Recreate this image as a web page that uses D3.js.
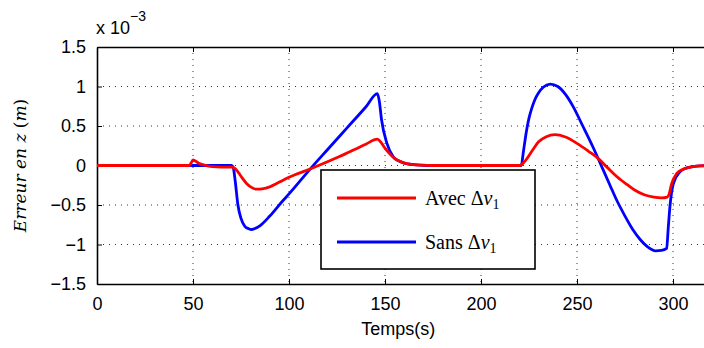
<!DOCTYPE html>
<html>
<head>
<meta charset="utf-8">
<script src="https://cdn.jsdelivr.net/npm/d3@7"></script>
<style>
  body { margin: 0; background: #fff; }
  svg { display: block; }
</style>
</head>
<body>
<div id="chart-area"></div>
<script>
// time axis (s) and error values (x 1e-3 m)
const tAvec = [0, 48, 49, 50, 51, 53, 56, 60, 65, 70, 72, 74, 76, 78, 80, 83, 86, 90, 95, 100, 111, 126, 140, 146,
  148, 150, 152, 155, 158, 162, 168, 175, 220, 221, 222, 224, 227, 230, 234, 238.5, 244, 250, 256, 261, 266, 271,
  276, 280, 285, 290, 294, 297, 298, 299.3, 302, 305, 309, 314, 320]
const avec = [0, 0, 0.03, 0.07, 0.06, 0.03, 0.005, -0.015, -0.02, -0.02, -0.04, -0.1, -0.17, -0.23, -0.27, -0.30,
  -0.295, -0.27, -0.21, -0.15, -0.045, 0.11, 0.27, 0.335, 0.29, 0.22, 0.16, 0.09, 0.05, 0.02, 0.005, 0, 0, 0.01,
  0.03, 0.09, 0.2, 0.3, 0.365, 0.39, 0.36, 0.28, 0.18, 0.09, -0.03, -0.145, -0.24, -0.31, -0.37, -0.40, -0.41,
  -0.40, -0.36, -0.23, -0.10, -0.05, -0.02, -0.005, 0]

const tSans = [0, 70, 71, 72, 73.4, 75, 77, 79, 80.5, 82, 85, 90, 97, 100, 111, 120, 130, 140, 146, 147, 148.2,
  151, 154.3, 157, 160, 165, 172, 221, 222, 223, 224, 225, 226.5, 228, 230, 232.4, 236, 240, 244, 248, 253, 258,
  263, 267, 270.7, 275, 279.3, 283, 286.3, 291, 294, 296.7, 297.5, 298.4, 300.2, 303.6, 306, 310.6, 315, 320]
const sans = [0, 0, -0.03, -0.2, -0.5, -0.67, -0.77, -0.80, -0.81, -0.80, -0.76, -0.64, -0.44, -0.36, -0.045, 0.2,
  0.47, 0.74, 0.91, 0.82, 0.58, 0.28, 0.11, 0.06, 0.03, 0.01, 0, 0, 0.16, 0.33, 0.48, 0.6, 0.73, 0.83, 0.92, 0.99,
  1.03, 1.0, 0.9, 0.745, 0.5, 0.25, -0.02, -0.24, -0.44, -0.64, -0.82, -0.94, -1.02, -1.08, -1.075, -1.05, -0.8,
  -0.52, -0.23, -0.08, -0.04, -0.015, -0.005, 0]

const xTicks = [0, 50, 100, 150, 200, 250, 300]
const yTicks = [-1.5, -1, -0.5, 0, 0.5, 1, 1.5]

const MARGIN = { LEFT: 97, TOP: 47 }
const WIDTH = 614.4
const HEIGHT = 237

const svg = d3.select("#chart-area").append("svg")
  .attr("width", 704)
  .attr("height", 348)

const g = svg.append("g")
  .attr("transform", "translate(" + MARGIN.LEFT + ", " + MARGIN.TOP + ")")

const x = d3.scaleLinear().domain([0, 320]).range([0, WIDTH])
const y = d3.scaleLinear().domain([-1.5, 1.5]).range([HEIGHT, 0])

// dotted grid
g.selectAll(".vgrid").data(xTicks.slice(1))
  .enter().append("line")
    .attr("x1", function(d) { return x(d) }).attr("x2", function(d) { return x(d) })
    .attr("y1", 0).attr("y2", HEIGHT)
    .attr("stroke", "#333").attr("stroke-dasharray", "1,5")
g.selectAll(".hgrid").data(yTicks.slice(1, -1))
  .enter().append("line")
    .attr("x1", 0).attr("x2", WIDTH)
    .attr("y1", function(d) { return y(d) }).attr("y2", function(d) { return y(d) })
    .attr("stroke", "#333").attr("stroke-dasharray", "1,5")

// axes (ticks pointing inward)
const fmt = function(d) { return d < 0 ? "\u2212" + Math.abs(d) : String(d) }
g.append("g")
  .attr("transform", "translate(0, " + HEIGHT + ")")
  .call(d3.axisBottom(x).tickValues(xTicks).tickSizeInner(-5).tickSizeOuter(0).tickPadding(13).tickFormat(fmt))
g.append("g")
  .call(d3.axisTop(x).tickValues(xTicks).tickSizeInner(-5).tickSizeOuter(0).tickFormat(""))
g.append("g")
  .call(d3.axisLeft(y).tickValues(yTicks).tickSizeInner(-5).tickSizeOuter(0).tickPadding(11).tickFormat(fmt))

g.selectAll(".domain").attr("stroke", "#000").attr("stroke-width", 1.6)
g.selectAll(".tick line").attr("stroke", "#000").attr("stroke-width", 1)
g.selectAll(".tick text")
  .attr("font-family", "'Liberation Sans', Arial, sans-serif")
  .attr("font-size", "18px")
  .attr("fill", "#000")

// curves
const line = d3.line().curve(d3.curveMonotoneX)
const avecPts = tAvec.map(function(t, i) { return [x(t), y(avec[i])] })
const sansPts = tSans.map(function(t, i) { return [x(t), y(sans[i])] })

g.append("path")
  .attr("d", line(sansPts))
  .attr("fill", "none").attr("stroke", "#0000ff").attr("stroke-width", 2.8)
g.append("path")
  .attr("d", line(avecPts))
  .attr("fill", "none").attr("stroke", "#ff0000").attr("stroke-width", 2.8)

// exponent label
const expo = svg.append("text")
  .attr("x", 96).attr("y", 34)
  .attr("font-family", "'Liberation Sans', Arial, sans-serif")
  .attr("font-size", "18px")
expo.append("tspan").text("x 10")
expo.append("tspan").attr("dy", -13).attr("font-size", "14px").text("\u22123")

// axis labels
svg.append("text")
  .attr("x", MARGIN.LEFT + x(160) - 6).attr("y", 335)
  .attr("text-anchor", "middle")
  .attr("font-family", "'Liberation Sans', Arial, sans-serif")
  .attr("font-size", "18px")
  .text("Temps(s)")

const ylab = svg.append("text")
  .attr("transform", "translate(26, " + (MARGIN.TOP + y(0)) + ") rotate(-90)")
  .attr("text-anchor", "middle")
  .attr("font-family", "'DejaVu Serif', 'Liberation Serif', serif")
  .attr("font-size", "17px")
ylab.append("tspan").attr("font-style", "italic").text("Erreur en z ")
ylab.append("tspan").text("(")
ylab.append("tspan").attr("font-style", "italic").text("m")
ylab.append("tspan").text(")")

// legend
const leg = svg.append("g").attr("transform", "translate(321, 170)")
leg.append("rect")
  .attr("width", 214).attr("height", 99)
  .attr("fill", "#fff").attr("stroke", "#000").attr("stroke-width", 1.6)

const legItems = [
  { name: "Avec ", color: "#ff0000" },
  { name: "Sans ", color: "#0000ff" }
]
legItems.forEach(function(d, i) {
  const yy = 28 + i * 44
  leg.append("line")
    .attr("x1", 16).attr("x2", 95).attr("y1", yy).attr("y2", yy)
    .attr("stroke", d.color).attr("stroke-width", 2.8)
  const t = leg.append("text")
    .attr("x", 104).attr("y", yy + 7)
    .attr("font-family", "'Liberation Serif', 'DejaVu Serif', serif")
    .attr("font-size", "20px")
  t.append("tspan").text(d.name + "\u0394")
  t.append("tspan").attr("font-style", "italic").text("v")
  t.append("tspan").attr("font-size", "14px").attr("dy", 4).text("1")
})
</script>
</body>
</html>
